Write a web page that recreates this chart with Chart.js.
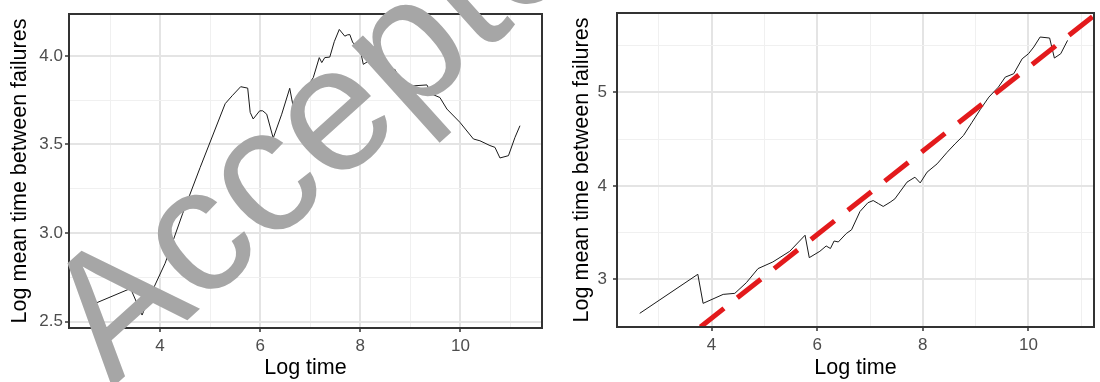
<!DOCTYPE html>
<html>
<head>
<meta charset="utf-8">
<script src="https://cdn.jsdelivr.net/npm/chart.js@4.4.1/dist/chart.umd.min.js"></script>
<style>
  html, body { margin: 0; padding: 0; background: #fff; }
  #wrap { position: relative; width: 1100px; height: 382px; overflow: hidden; }
  #wrap canvas { position: absolute; top: 0; }
  #leftChart { left: 0; }
  #rightChart { left: 550px; }
  #stamp { left: 0; pointer-events: none; }
</style>
</head>
<body>
<div id="wrap">
  <canvas id="leftChart" width="550" height="382"></canvas>
  <canvas id="rightChart" width="550" height="382"></canvas>
  <canvas id="stamp" width="1100" height="382"></canvas>
</div>
<script>
// values (log time vs log mean time between failures)
const leftTime = [2.62, 3.41, 3.64, 3.82, 4.10, 4.45, 4.80, 5.30, 5.44, 5.61, 5.75, 5.80, 5.86, 5.99, 6.05, 6.13, 6.26, 6.43, 6.59, 6.65, 6.83, 6.95, 7.06, 7.18, 7.23, 7.29, 7.39, 7.48, 7.58, 7.69, 7.74, 7.79, 7.85, 7.99, 8.06, 8.16, 8.26, 8.36, 8.43, 8.56, 8.69, 8.79, 8.93, 9.03, 9.33, 9.43, 9.59, 9.73, 9.99, 10.26, 10.39, 10.59, 10.69, 10.79, 10.96, 11.09, 11.19]
const leftMtbf = [2.594, 2.688, 2.538, 2.66, 2.83, 3.11, 3.37, 3.73, 3.775, 3.826, 3.818, 3.681, 3.644, 3.69, 3.69, 3.671, 3.536, 3.671, 3.817, 3.727, 3.784, 3.83, 3.877, 3.99, 3.962, 3.99, 3.993, 4.08, 4.149, 4.111, 4.118, 4.12, 4.074, 4.046, 3.952, 3.97, 4.05, 4.018, 3.952, 3.915, 3.924, 3.868, 3.812, 3.83, 3.836, 3.784, 3.765, 3.70, 3.625, 3.531, 3.521, 3.494, 3.484, 3.424, 3.437, 3.54, 3.606]

const rightTime = [2.64, 3.74, 3.84, 4.22, 4.44, 4.66, 4.88, 5.16, 5.48, 5.77, 5.85, 6.05, 6.17, 6.25, 6.32, 6.40, 6.55, 6.65, 6.81, 6.96, 7.06, 7.16, 7.25, 7.38, 7.47, 7.70, 7.85, 7.95, 8.08, 8.27, 8.46, 8.61, 8.77, 8.93, 9.09, 9.25, 9.43, 9.56, 9.72, 9.88, 10.0, 10.1, 10.22, 10.40, 10.49, 10.61, 10.74]
const rightMtbf = [2.636, 3.054, 2.743, 2.839, 2.85, 2.965, 3.115, 3.186, 3.30, 3.472, 3.232, 3.30, 3.357, 3.33, 3.41, 3.40, 3.49, 3.53, 3.726, 3.82, 3.843, 3.81, 3.78, 3.825, 3.861, 4.04, 4.093, 4.032, 4.147, 4.236, 4.36, 4.45, 4.54, 4.68, 4.82, 4.95, 5.057, 5.164, 5.2, 5.36, 5.414, 5.486, 5.593, 5.582, 5.368, 5.414, 5.557]

// fitted line on the right panel, two ends
const fitTime = [3.79, 11.3]
const fitMtbf = [2.49, 5.85]

const xMajor = [4, 6, 8, 10]
const xMinor = [3, 5, 7, 9, 11]
const xLabels = ['4', '6', '8', '10']
const leftYMajor = [2.5, 3.0, 3.5, 4.0]
const leftYMinor = [2.75, 3.25, 3.75]
const leftYLabels = ['2.5', '3.0', '3.5', '4.0']
const rightYMajor = [3, 4, 5]
const rightYMinor = [3.5, 4.5, 5.5]
const rightYLabels = ['3', '4', '5']

const FONT = '"Liberation Sans", Arial, sans-serif'

function pts(xs, ys) {
  return xs.map((x, i) => ({ x: x, y: ys[i] }))
}

function axis(major, minor, labels, min, max, o) {
  const all = major.concat(minor).sort((a, b) => a - b)
  const isMajor = c => c.tick && major.includes(c.tick.value)
  return {
    type: 'linear',
    position: o.position,
    min: min,
    max: max,
    afterBuildTicks: s => { s.ticks = all.map(v => ({ value: v })) },
    ticks: {
      autoSkip: false,
      maxRotation: 0,
      color: '#4d4d4d',
      padding: o.tickPad,
      font: { family: FONT, size: 17 },
      callback: v => {
        const i = major.indexOf(v)
        return i < 0 ? '' : labels[i]
      }
    },
    grid: {
      color: c => isMajor(c) ? '#e4e4e4' : '#f0f0f0',
      lineWidth: c => isMajor(c) ? 2 : 1,
      tickLength: 4,
      tickWidth: 1.5,
      tickColor: c => isMajor(c) ? '#333333' : 'rgba(0,0,0,0)'
    },
    border: { display: false },
    title: {
      display: true,
      text: o.title,
      color: '#000',
      font: { family: FONT, size: 21.5 },
      padding: o.titlePad
    },
    afterFit: s => {
      if (o.width) s.width = o.width
      if (o.height) s.height = o.height
      s.paddingTop = 0
      s.paddingBottom = 0
      s.paddingLeft = 0
      s.paddingRight = 0
    }
  }
}

// ggplot style panel border, drawn on top
const panelBorder = {
  id: 'panelBorder',
  afterDraw(chart) {
    const a = chart.chartArea
    const ctx = chart.ctx
    ctx.save()
    ctx.strokeStyle = '#333333'
    ctx.lineWidth = 2
    ctx.strokeRect(a.left, a.top, a.right - a.left, a.bottom - a.top)
    ctx.restore()
  }
}

function panel(id, datasets, xOpts, yOpts, pad) {
  return new Chart(document.getElementById(id), {
    type: 'scatter',
    data: { datasets: datasets },
    options: {
      responsive: false,
      animation: false,
      devicePixelRatio: 1,
      layout: { padding: pad },
      plugins: { legend: { display: false }, tooltip: { enabled: false } },
      scales: { x: xOpts, y: yOpts }
    },
    plugins: [panelBorder]
  })
}

panel('leftChart', [{
    data: pts(leftTime, leftMtbf),
    showLine: true,
    borderColor: '#1a1a1a',
    borderWidth: 1,
    pointRadius: 0,
    tension: 0
  }],
  axis(xMajor, xMinor, xLabels, 2.18, 11.63, { position: 'bottom', title: 'Log time', tickPad: 4, titlePad: { top: 0, bottom: 1 }, height: 54 }),
  axis(leftYMajor, leftYMinor, leftYLabels, 2.465, 4.236, { position: 'left', title: 'Log mean time between failures', tickPad: 2, titlePad: { top: 7.4, bottom: 0 }, width: 69 }),
  { left: 0, top: 14, right: 8, bottom: 0 }
)

panel('rightChart', [{
    data: pts(fitTime, fitMtbf),
    showLine: true,
    borderColor: '#e31a1c',
    borderWidth: 5,
    borderDash: [30, 17],
    borderCapStyle: 'butt',
    pointRadius: 0,
    clip: 0,
    order: 0
  }, {
    data: pts(rightTime, rightMtbf),
    showLine: true,
    borderColor: '#1a1a1a',
    borderWidth: 1,
    pointRadius: 0,
    tension: 0,
    order: 1
  }],
  axis(xMajor, xMinor, xLabels, 2.21, 11.24, { position: 'bottom', title: 'Log time', tickPad: 4, titlePad: { top: 0, bottom: 1 }, height: 55 }),
  axis(rightYMajor, rightYMinor, rightYLabels, 2.49, 5.85, { position: 'left', title: 'Log mean time between failures', tickPad: 6, titlePad: { top: 19.4, bottom: 0 }, width: 67 }),
  { left: 0, top: 13, right: 6, bottom: 0 }
)

// the "Accepted" stamp across the left panel
const stamp = document.getElementById('stamp').getContext('2d')
stamp.save()
stamp.translate(112, 388)
stamp.rotate(-42 * Math.PI / 180)
stamp.font = '178px ' + FONT
stamp.fillStyle = '#a6a6a6'
stamp.fillText('Accepted', 0, 0)
stamp.restore()
</script>
</body>
</html>
